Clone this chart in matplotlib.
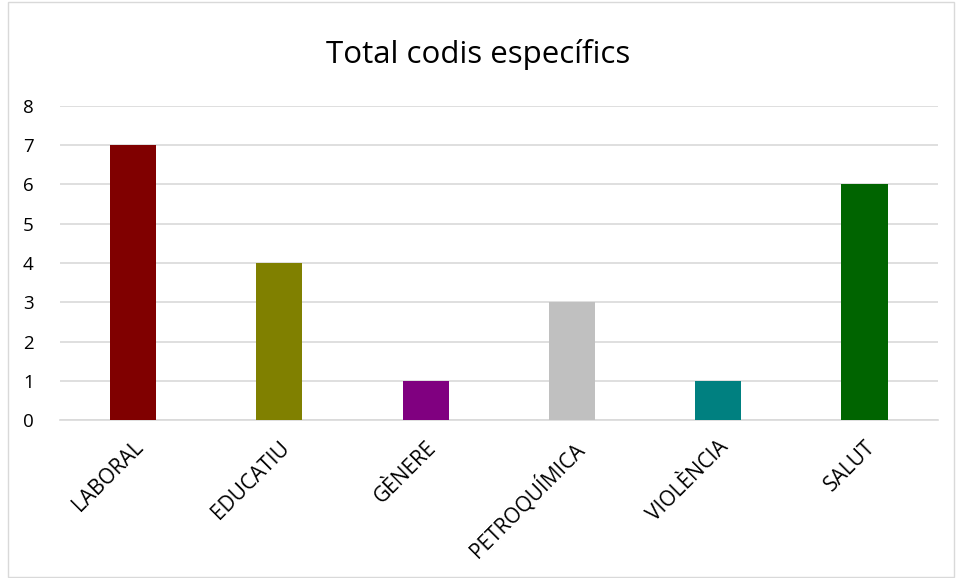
import matplotlib.pyplot as plt
from matplotlib.patches import Rectangle

# data
categories = ["LABORAL", "EDUCATIU", "GÈNERE", "PETROQUÍMICA", "VIOLÈNCIA", "SALUT"]
values = [7, 4, 1, 3, 1, 6]
colors = ["#800000", "#808000", "#800080", "#C0C0C0", "#008080", "#006400"]

plt.rcParams['font.family'] = ['Open Sans', 'DejaVu Sans']

fig = plt.figure(figsize=(9.56, 5.78), dpi=100)
ax = fig.add_axes([0.0628, 0.273, 0.918, 0.544])

x = range(len(categories))
ax.bar(x, values, width=0.315, color=colors, zorder=3)

ax.set_ylim(0, 8)
ax.set_xlim(-0.5, len(categories) - 0.5)
ax.set_yticks(range(0, 9))
ax.yaxis.grid(True, color="#D9D9D9", linewidth=1.2, zorder=0)
ax.set_xticks(list(x))
ax.set_xticklabels(categories, rotation=45, ha="right", rotation_mode="anchor", fontsize=15)
ax.tick_params(axis="y", labelsize=13.5, length=0, pad=19)
ax.tick_params(axis="x", length=0, pad=12)
for s in ["top", "right", "left"]:
    ax.spines[s].set_visible(False)
ax.spines["bottom"].set_color("#D9D9D9")
ax.spines["bottom"].set_linewidth(1.2)

fig.text(0.5, 0.906, "Total codis específics", ha="center", va="center", fontsize=22.5)

# chart border
fig.patches.append(Rectangle((8 / 956, 1 / 578), 946 / 956, 575 / 578, transform=fig.transFigure,
                             fill=False, edgecolor="#D9D9D9", linewidth=1))

fig.savefig("out.png", dpi=100)
